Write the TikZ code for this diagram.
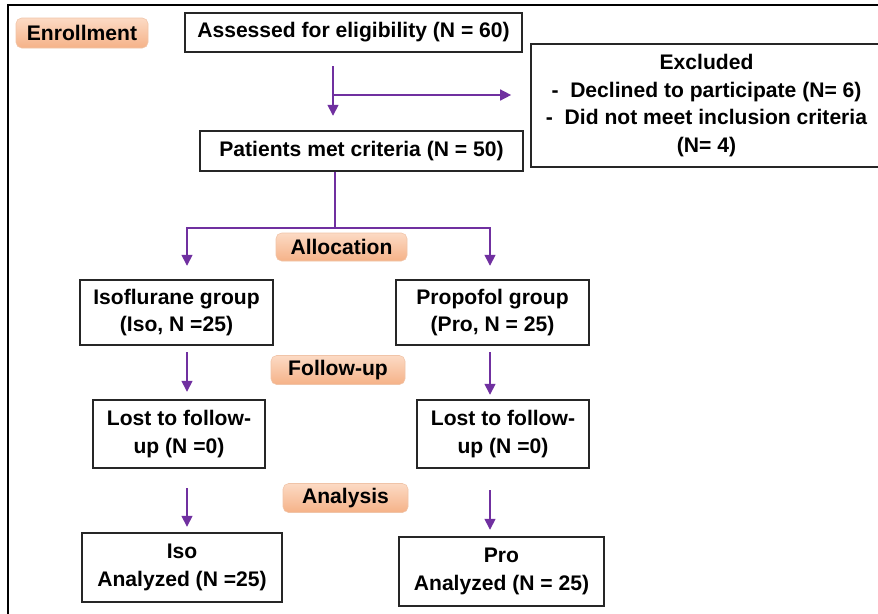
\documentclass[tikz,border=0pt]{standalone}
\usepackage{fontspec}
\setmainfont{Liberation Sans}
\usetikzlibrary{arrows.meta}
\definecolor{flowpurple}{RGB}{112,48,160}
\definecolor{peachtop}{RGB}{252,218,196}
\definecolor{peachbot}{RGB}{245,178,136}
\definecolor{peachline}{RGB}{240,196,168}

\begin{document}
\begin{tikzpicture}
\tikzstyle{box} = [rectangle,draw=black!85,line width=0.9pt,fill=white,align=center,font=\fontsize{15}{19.5}\selectfont\bfseries]
\tikzstyle{stage} = [rectangle,rounded corners=4pt,draw=peachline,top color=peachtop,bottom color=peachbot,font=\fontsize{15}{18}\selectfont\bfseries]
\tikzstyle{edge} = [draw=flowpurple,line width=2pt]
\tikzstyle{arrow} = [edge,-{Triangle[length=8pt,width=7.5pt]}]
\useasboundingbox (0,0) rectangle (21.95,-15.325);
\draw[black,line width=0.8pt] (0.2,-15.5) -- (0.2,-0.125) -- (22.1,-0.125);
% stages
\node[stage,minimum width=3.3cm,minimum height=0.75cm] (s1) at (2.05,-0.825) {Enrollment};
\node[stage,minimum width=3.275cm,minimum height=0.7cm] (s2) at (8.5375,-6.175) {Allocation};
\node[stage,minimum width=3.35cm,minimum height=0.7cm] (s3) at (8.45,-9.25) {Follow-up};
\node[stage,minimum width=3.125cm,minimum height=0.7cm] (s4) at (8.6375,-12.45) {Analysis};
% boxes
\node[box,minimum width=8.425cm,minimum height=0.975cm] (n1) at (8.8375,-0.8125) {Assessed for eligibility (N = 60)};
\node[box,minimum width=8.775cm,minimum height=3.075cm] (n2) at (17.6625,-2.6375) {Excluded\\-~~Declined to participate (N= 6)\\-~~Did not meet inclusion criteria\\(N= 4)};
\node[box,minimum width=8.075cm,minimum height=1cm] (n3) at (9.0375,-3.775) {Patients met criteria (N = 50)};
\node[box,minimum width=4.825cm,minimum height=1.625cm] (n4) at (4.4125,-7.8125) {Isoflurane group\\(Iso, N =25)};
\node[box,minimum width=4.825cm,minimum height=1.625cm] (n5) at (12.3125,-7.8125) {Propofol group\\(Pro, N = 25)};
\node[box,minimum width=4.3cm,minimum height=1.7cm] (n6) at (4.475,-10.85) {Lost to follow-\\up (N =0)};
\node[box,minimum width=4.3cm,minimum height=1.7cm] (n7) at (12.575,-10.85) {Lost to follow-\\up (N =0)};
\node[box,minimum width=5cm,minimum height=1.725cm] (n8) at (4.55,-14.1875) {Iso\\Analyzed (N =25)};
\node[box,minimum width=5.125cm,minimum height=1.725cm] (n9) at (12.5375,-14.2875) {Pro\\Analyzed (N = 25)};
% connectors
\coordinate (c1) at (8.325,-1.65);
\coordinate (c2) at (8.325,-2.375);
\coordinate (c3) at (8.325,-2.9);
\coordinate (c4) at (8.375,-5.7);
\coordinate (c5) at (4.675,-6.65);
\coordinate (c6) at (12.25,-6.65);
\coordinate (c7) at (4.675,-8.8);
\coordinate (c8) at (4.675,-9.8);
\coordinate (c9) at (12.25,-8.8);
\coordinate (c10) at (12.25,-9.875);
\coordinate (c11) at (4.675,-12.2);
\coordinate (c12) at (4.675,-13.175);
\coordinate (c13) at (12.25,-12.25);
\coordinate (c14) at (12.25,-13.25);
\draw[arrow] (c1) -- (c3);
\draw[arrow,shorten >=0.475cm] (c2) -- (c2 -| n2.west);
\draw[edge] (c4 |- n3.south) -- (c4);
\draw[arrow] (c4) -| (c5);
\draw[arrow] (c4) -| (c6);
\draw[arrow] (c7) -- (c8);
\draw[arrow] (c9) -- (c10);
\draw[arrow] (c11) -- (c12);
\draw[arrow] (c13) -- (c14);
\end{tikzpicture}
\end{document}
